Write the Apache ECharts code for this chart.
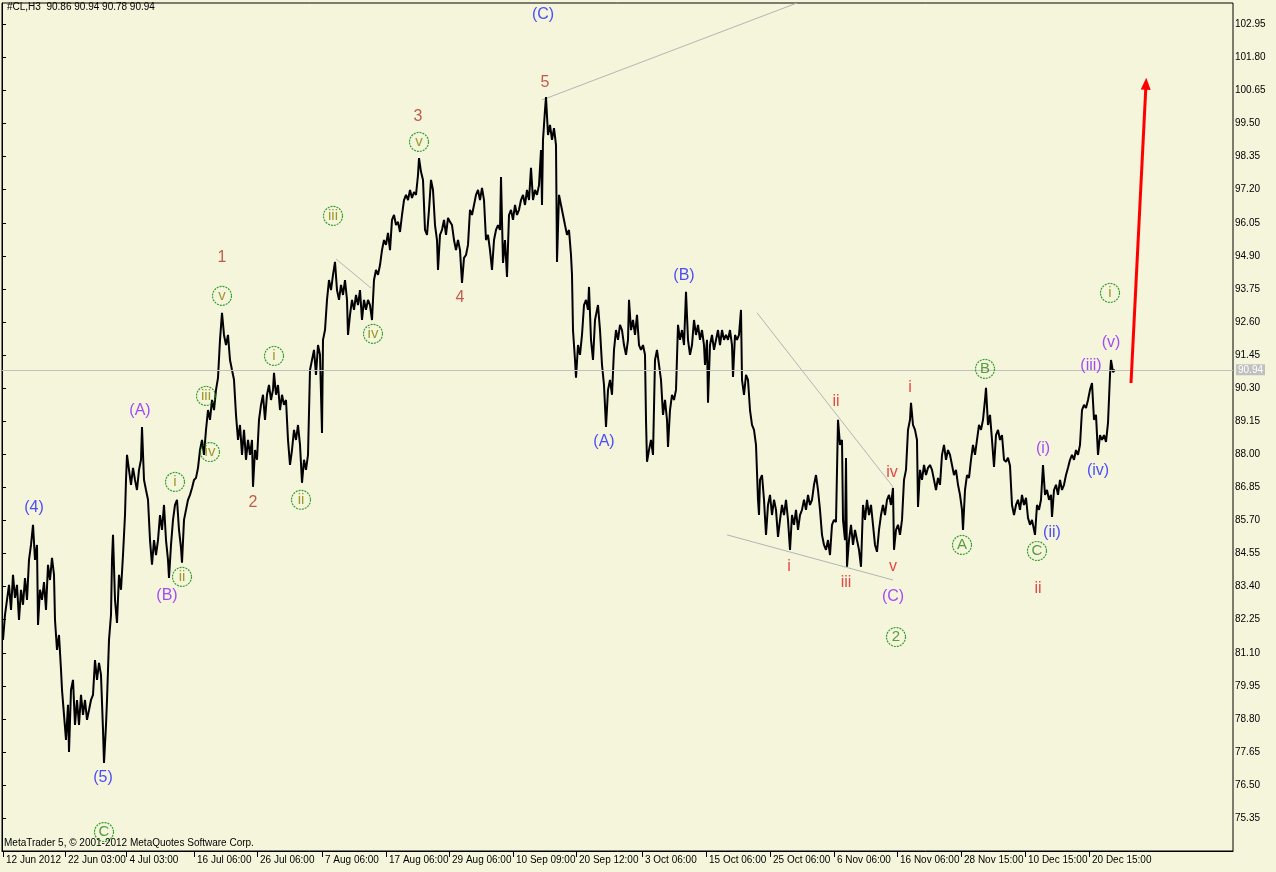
<!DOCTYPE html>
<html><head><meta charset="utf-8">
<script src="https://cdn.jsdelivr.net/npm/echarts@6/dist/echarts.min.js"></script>
<style>html,body{margin:0;padding:0;background:#f5f5dc;}#c{width:1276px;height:872px;}</style>
</head><body><div id="c"></div>
<script>
// ---- data ----
const xTickBars = [1, 63, 124.5, 192, 255, 320, 384, 447, 511, 574, 640, 704, 768, 832, 895, 959, 1023, 1087];
const xTickLabels = ['12 Jun 2012','22 Jun 03:00','4 Jul 03:00','16 Jul 06:00','26 Jul 06:00','7 Aug 06:00','17 Aug 06:00','29 Aug 06:00','10 Sep 09:00','20 Sep 12:00','3 Oct 06:00','15 Oct 06:00','25 Oct 06:00','6 Nov 06:00','16 Nov 06:00','28 Nov 15:00','10 Dec 15:00','20 Dec 15:00'];
const yTicks = [75.35,76.50,77.65,78.80,79.95,81.10,82.25,83.40,84.55,85.70,86.85,88.00,89.15,90.30,91.45,92.60,93.75,94.90,96.05,97.20,98.35,99.50,100.65,101.80,102.95];
const lastPrice = 90.94;
const headerText = '#CL,H3  90.86 90.94 90.78 90.94';
const footerText = 'MetaTrader 5, \u00a9 2001-2012 MetaQuotes Software Corp.';

// [bar index, price]
const pricePath = [
[1,81.55],[3,82.42],[5,82.94],[7,83.46],[9,82.59],[11,83.81],[13,83.01],[15,83.46],[17,82.24],[19,83.29],[21,82.77],[23,83.70],[25,82.94],[27,84.33],[29,84.85],[31,85.55],[33,84.33],[35,84.85],[36,82.07],[38,83.29],[40,82.94],[42,83.56],[44,82.59],[46,84.16],[48,83.63],[50,84.40],[52,83.81],[53,82.24],[55,81.20],[57,81.72],[59,80.51],[60,79.81],[62,78.94],[64,78.07],[66,79.29],[67,77.65],[69,79.81],[71,80.16],[73,78.59],[75,79.46],[77,78.59],[79,79.64],[81,78.94],[83,79.46],[85,78.77],[87,79.11],[89,79.46],[91,79.64],[93,80.85],[95,80.16],[97,80.75],[99,80.33],[101,78.42],[102,77.27],[104,78.59],[105,79.46],[107,81.55],[109,82.42],[110,84.33],[111,85.20],[113,82.94],[115,82.14],[117,83.81],[119,83.29],[121,84.50],[123,85.89],[124,87.11],[125,87.98],
[127,87.46],[129,86.94],[131,87.53],[133,87.11],[135,86.76],[137,87.46],[139,87.81],[140,88.95],[142,87.11],[144,86.76],[146,86.42],[148,85.02],[150,84.16],[152,85.02],[154,84.50],[156,85.02],[158,85.89],[160,85.37],[162,86.24],[164,85.02],[166,84.33],[167,83.70],[169,84.85],[171,85.72],[173,86.24],[175,86.42],[177,85.37],[179,84.75],[180,84.23],[182,85.72],[184,86.07],[186,86.42],[188,86.59],[190,86.83],[192,87.11],[194,87.18],[196,87.53],[198,88.15],[200,88.50],[202,87.98],[204,88.85],[206,89.54],[208,89.20],[210,89.89],[212,89.54],[214,90.24],[216,90.66],[218,91.98],[220,92.92],[222,92.15],[224,91.80],[226,92.15],[228,91.28],[230,90.93],[232,90.59],[234,89.37],[236,88.50],[238,89.02],[240,87.98],[242,88.85],[244,87.81],[246,88.50],[248,87.98],[250,88.50],[251,86.87],[253,88.15],[255,87.81],[257,89.20],[259,89.72],[261,90.07],[263,89.20],[265,90.07],[267,90.41],[269,89.89],[271,90.24],[272,90.83],[274,90.07],[276,90.41],[278,89.54],[280,90.07],[282,89.72],[284,89.89],[286,88.50],[288,87.63],[290,88.15],[292,88.85],[294,88.50],[296,89.02],[298,88.33],[300,87.01],[302,87.81],[304,87.46],[306,87.98],[308,90.93],[310,91.28],[312,91.63],[314,90.76],[316,91.80],[318,91.46],[320,88.74],[321,91.98],[323,92.32],[325,93.37],
[327,94.06],[329,93.71],[331,94.24],[333,94.69],[335,93.71],[337,93.37],[339,93.89],[341,93.54],[343,94.06],[345,93.37],[346,92.15],[348,92.85],[350,93.37],[352,93.02],[354,93.54],[356,93.19],[358,93.71],[360,92.67],[362,93.37],[364,93.02],[366,93.37],[368,93.19],[370,92.67],[372,94.06],[374,94.41],[376,94.24],[378,94.58],[380,95.10],[382,95.45],[384,95.28],[386,95.70],[388,95.10],[390,96.15],[392,96.32],[394,95.97],[396,96.08],[398,95.73],[400,96.32],[402,96.84],[404,97.02],[406,96.84],[408,97.19],[410,96.91],[412,97.12],[414,97.02],[416,97.71],[417,98.30],[419,97.82],[421,97.54],[423,95.80],[425,95.63],[427,96.50],[429,97.54],[431,97.19],[433,95.97],[435,95.45],[436,94.41],[438,95.63],[440,95.80],[442,96.15],[444,95.63],[446,96.22],[448,96.08],[450,95.97],[452,95.45],[454,95.10],[456,95.45],[458,95.10],[460,93.96],[462,94.83],[464,94.93],[466,95.28],[468,96.50],[470,96.32],[472,96.67],[474,97.02],[476,97.19],[478,96.84],[480,97.26],[482,96.84],[484,95.45],[486,95.63],[488,95.10],[490,94.41],[492,95.45],[494,95.80],[496,95.97],[498,95.80],[499,97.64],[501,94.65],[503,95.45],[505,94.17],[507,96.32],[509,96.50],[511,96.15],[513,96.67],[515,96.32],[517,96.50],[519,96.84],[521,97.02],[523,96.67],[525,97.19],[527,96.84],[529,97.96],[531,96.84],[533,97.19],[535,97.02],[537,97.36],[539,98.58],[540,96.67],[541,98.93],[543,99.97],[544,100.42],[546,99.10],[548,99.45],[550,98.93],[552,99.34],[554,98.75],[555,94.69],[557,97.02],[559,96.67],[561,96.32],[563,95.97],[565,95.63],[567,95.80],[569,94.93],[570,94.24],[571,92.32],[573,91.28],[574,90.66],[576,91.80],[578,91.46],
[580,92.15],[582,93.19],[584,93.37],[586,93.02],[587,93.82],[589,91.98],[591,91.28],[593,92.67],[595,93.02],[596,93.19],[598,92.32],[600,91.11],[602,90.41],[604,88.95],[606,90.24],[608,90.59],[610,90.07],[612,91.63],[614,92.32],[616,91.98],[618,92.50],[620,92.32],[622,91.80],[624,91.46],[626,91.98],[627,93.37],[629,92.32],[631,92.67],[633,92.15],[635,92.85],[637,91.80],[639,91.63],[641,91.80],[643,91.46],[644,89.20],[645,87.74],[647,88.15],[649,88.50],[651,87.98],[653,91.28],[655,91.63],[657,91.11],[659,90.59],[661,89.37],[663,89.89],[665,89.20],[666,88.26],[668,89.54],[670,90.07],[672,89.89],[674,90.24],[676,92.50],[678,91.98],[680,92.32],[682,91.80],[684,93.65],[686,91.98],[688,91.46],[690,91.80],[692,92.67],[694,92.15],[696,92.50],[698,91.98],[700,92.32],[702,91.80],[703,91.11],[705,91.98],[706,89.79],[708,91.80],[710,92.15],[712,91.63],[714,91.98],[716,92.32],[718,91.80],[720,92.32],[722,91.98],[724,92.15],[726,91.98],[728,92.32],[730,91.80],[731,90.69],[733,92.15],[735,91.98],[737,92.15],[739,93.02],[740,90.59],[742,90.07],[744,90.76],[746,90.59],[748,89.54],[750,89.02],[752,88.85],[754,88.33],[756,86.42],
[757,85.89],[758,87.11],[760,87.28],[762,86.42],[764,85.20],[766,86.24],[768,86.59],[770,85.89],[772,86.42],[774,86.07],[776,85.13],[778,85.72],[780,86.24],[782,85.89],[784,86.42],[786,85.72],[788,84.68],[790,85.89],[792,85.55],[794,86.07],[796,85.37],[798,85.89],[800,86.07],[802,86.42],[804,86.07],[806,86.59],[808,86.24],[810,86.42],[812,86.94],[814,87.28],[816,86.76],[818,86.07],[820,85.20],[822,84.85],[824,84.68],[826,85.02],[828,84.50],[830,85.55],[832,85.72],[834,85.65],[836,89.20],[838,88.33],[840,88.50],[841,85.72],[843,85.02],[844,87.87],[845,84.09],[847,85.02],[849,85.55],[851,84.85],[853,85.37],[855,85.02],[857,84.68],[859,84.09],[861,86.24],[863,85.72],[865,86.42],[867,85.89],[869,86.24],[871,85.55],[873,84.85],[875,84.61],[877,85.37],[879,85.89],[881,86.24],[883,85.89],[885,86.42],[887,86.59],[889,86.24],[891,86.83],[892,84.68],[894,85.37],[896,85.55],[898,85.20],[900,85.72],[902,87.11],[904,87.46],[906,88.85],[908,89.20],[909,89.79],[911,89.02],[913,88.85],[915,88.50],[916,86.17],[918,87.46],[920,87.11],[922,87.63],[924,87.28],[926,87.53],[928,87.63],[930,87.46],[932,87.11],[934,86.76],[936,87.18],[938,86.94],[940,87.98],[942,88.33],[944,87.81],[946,88.15],[948,87.98],[950,87.63],[952,87.28],[954,87.46],[956,86.94],[958,86.59],[960,86.07],[961,85.37],[963,86.76],[965,87.28],[967,87.18],
[969,87.81],[971,88.33],[973,87.98],[975,88.50],[977,89.02],[979,88.85],[981,89.20],[983,89.89],[984,90.31],[986,89.02],[988,89.37],[990,88.50],[992,87.56],[994,88.67],[996,88.85],[998,88.50],[1000,88.67],[1002,87.81],[1004,87.74],[1006,87.88],[1008,87.60],[1010,86.24],[1012,85.89],[1014,86.24],[1016,86.42],[1018,86.07],[1020,86.59],[1022,86.24],[1024,86.49],[1026,85.79],[1028,85.55],[1030,85.72],[1033,85.20],[1035,86.24],[1037,86.07],[1039,86.42],[1041,87.63],[1043,86.59],[1045,86.76],[1047,86.42],[1049,86.59],[1050,85.82],[1052,86.76],[1054,86.94],[1056,86.59],[1058,87.11],[1060,86.76],[1062,86.94],[1064,87.28],[1066,87.53],[1068,87.81],[1070,87.98],[1072,87.81],[1074,88.15],[1076,87.98],[1078,88.33],[1080,89.54],[1082,89.72],[1084,89.61],[1086,89.89],[1088,90.24],[1090,90.48],[1092,89.20],[1094,89.37],[1096,87.98],[1098,88.67],[1100,88.50],[1102,88.67],[1104,88.43],[1106,89.09],[1108,90.76],[1109,91.28],[1111,90.86],[1113,90.94]
];

// trend lines [bar, price]
const trendUpper = [[540,100.32],[795,103.69]];
const trendFlag  = [[334,94.79],[369,93.78]];
const trendDown  = [[755,92.92],[891,86.87]];
const trendLow   = [[725,85.20],[891,83.63]];
const forecastArrow = [[1129,90.48],[1144,100.88]];

// wave labels: [text, bar, price]
const labelsBlue = [['(C)',541,103.27],['(4)',32,86.14],['(5)',101,76.75],['(A)',602,88.46],['(B)',682,94.20],['(ii)',1050,85.27],['(iv)',1096,87.42]];
const labelsViolet = [['(A)',138,89.51],['(B)',165,83.08],['(C)',891,83.04],['(i)',1041,88.19],['(iii)',1089,91.07],['(v)',1109,91.87]];
const labelsBrown = [['1',220,94.83],['2',251,86.31],['3',416,99.73],['4',458,93.44],['5',543,100.94]];
const labelsRed = [['i',787,84.09],['ii',834,89.82],['iii',844,83.53],['iv',890,87.35],['v',891,84.09],['i',908,90.31],['ii',1036,83.32]];
const circledMinor = [['ii',180,83.74],['i',173,87.04],['iv',208,88.08],['iii',204,90.03],['v',220,93.51],['i',272,91.42],['ii',299,86.42],['iii',331,96.29],['iv',371,92.19],['v',417,98.86],['i',1108,93.61]];
const circledMajor = [['C',102,74.87],['2',894,81.65],['A',960,84.85],['B',983,90.97],['C',1035,84.64]];

// ---- chart ----
const FONT = 'Liberation Sans';
const chart = echarts.init(document.getElementById('c'), null, {renderer:'canvas'});

function textSeries(arr, color) {
  return {
    type:'scatter', symbol:'circle', symbolSize:1, z:5,
    itemStyle:{color:'rgba(0,0,0,0)'},
    label:{show:true, position:'inside', formatter:'{b}', color:color, fontSize:16, fontFamily:FONT},
    data: arr.map(d => ({name:d[0], value:[d[1], d[2]]})),
    silent:true
  };
}
function circledSeries(arr, textColor) {
  return {
    type:'scatter', symbol:'circle', symbolSize:19, z:5,
    itemStyle:{color:'rgba(0,0,0,0)', borderColor:'#008a00', borderWidth:1.2, borderType:[2,1]},
    label:{show:true, position:'inside', formatter:'{b}', color:textColor, fontSize:15, fontFamily:FONT},
    data: arr.map(d => ({name:d[0], value:[d[1], d[2]]})),
    silent:true
  };
}
function trendSeries(pts, color, width) {
  return {type:'line', data:pts, symbol:'none', silent:true, z:2,
    lineStyle:{color:color, width:width}};
}

const option = {
  animation:false,
  backgroundColor:'#f5f5dc',
  grid:{left:2, right:43, top:3, bottom:21, show:true, borderColor:'#000', borderWidth:1, backgroundColor:'transparent'},
  xAxis:{
    type:'value', min:0, max:1231,
    axisLine:{show:true, onZero:false, lineStyle:{color:'#000', width:1}},
    splitLine:{show:false},
    axisTick:{show:true, customValues:xTickBars, length:6, lineStyle:{color:'#000'}},
    axisLabel:{show:true, customValues:xTickBars, align:'left', margin:4, padding:[0,0,0,3],
      color:'#000', fontSize:10, fontFamily:FONT,
      formatter: v => { const i = xTickBars.indexOf(v); return i >= 0 ? xTickLabels[i] : ''; }}
  },
  yAxis:{
    type:'value', position:'right', min:74.21, max:103.69, scale:true,
    axisLine:{show:true, lineStyle:{color:'#000', width:1}},
    splitLine:{show:false},
    axisTick:{show:true, customValues:yTicks, length:4, lineStyle:{color:'#000'}},
    axisLabel:{show:true, customValues:yTicks, margin:2, color:'#000', fontSize:10, fontFamily:FONT,
      formatter: v => v.toFixed(2)}
  },
  graphic:[
    {type:'text', left:7, top:2, z:10, style:{text:headerText, font:'10px "Liberation Sans"', fill:'#000'}},
    {type:'text', left:4, top:838, z:10, style:{text:footerText, font:'10px "Liberation Sans"', fill:'#000'}}
  ],
  series:[
    trendSeries(trendUpper, '#b4b4b4', 1),
    trendSeries(trendFlag, '#b4b4b4', 1),
    trendSeries(trendDown, '#b4b4b4', 1),
    trendSeries(trendLow, '#b4b4b4', 1),
    {
      type:'line', name:'#CL,H3', data:pricePath, symbol:'none', z:3, silent:true,
      lineStyle:{color:'#000', width:2},
      markLine:{
        silent:true, symbol:'none', animation:false,
        data:[{yAxis:lastPrice}],
        lineStyle:{color:'#c0c0c0', width:1, type:'solid'},
        label:{show:true, position:'end', distance:3, formatter:lastPrice.toFixed(2),
          color:'#ffffff', backgroundColor:'#c0c0c0', padding:[1,2,0,2], fontSize:10, fontFamily:FONT}
      }
    },
    {
      type:'line', data:[], symbol:'none', silent:true, z:4,
      markLine:{
        silent:true, symbol:['none','triangle'], symbolSize:[10,12], animation:false,
        data:[[{coord:forecastArrow[0]},{coord:forecastArrow[1]}]],
        lineStyle:{color:'#ff0000', width:3, type:'solid'},
        label:{show:false}
      }
    },
    textSeries(labelsBlue, '#2222ff'),
    textSeries(labelsViolet, '#8c1fff'),
    textSeries(labelsBrown, '#b0362b'),
    textSeries(labelsRed, '#e01a1a'),
    circledSeries(circledMinor, '#858500'),
    circledSeries(circledMajor, '#2a8a18')
  ]
};
chart.setOption(option);
</script>
</body></html>
